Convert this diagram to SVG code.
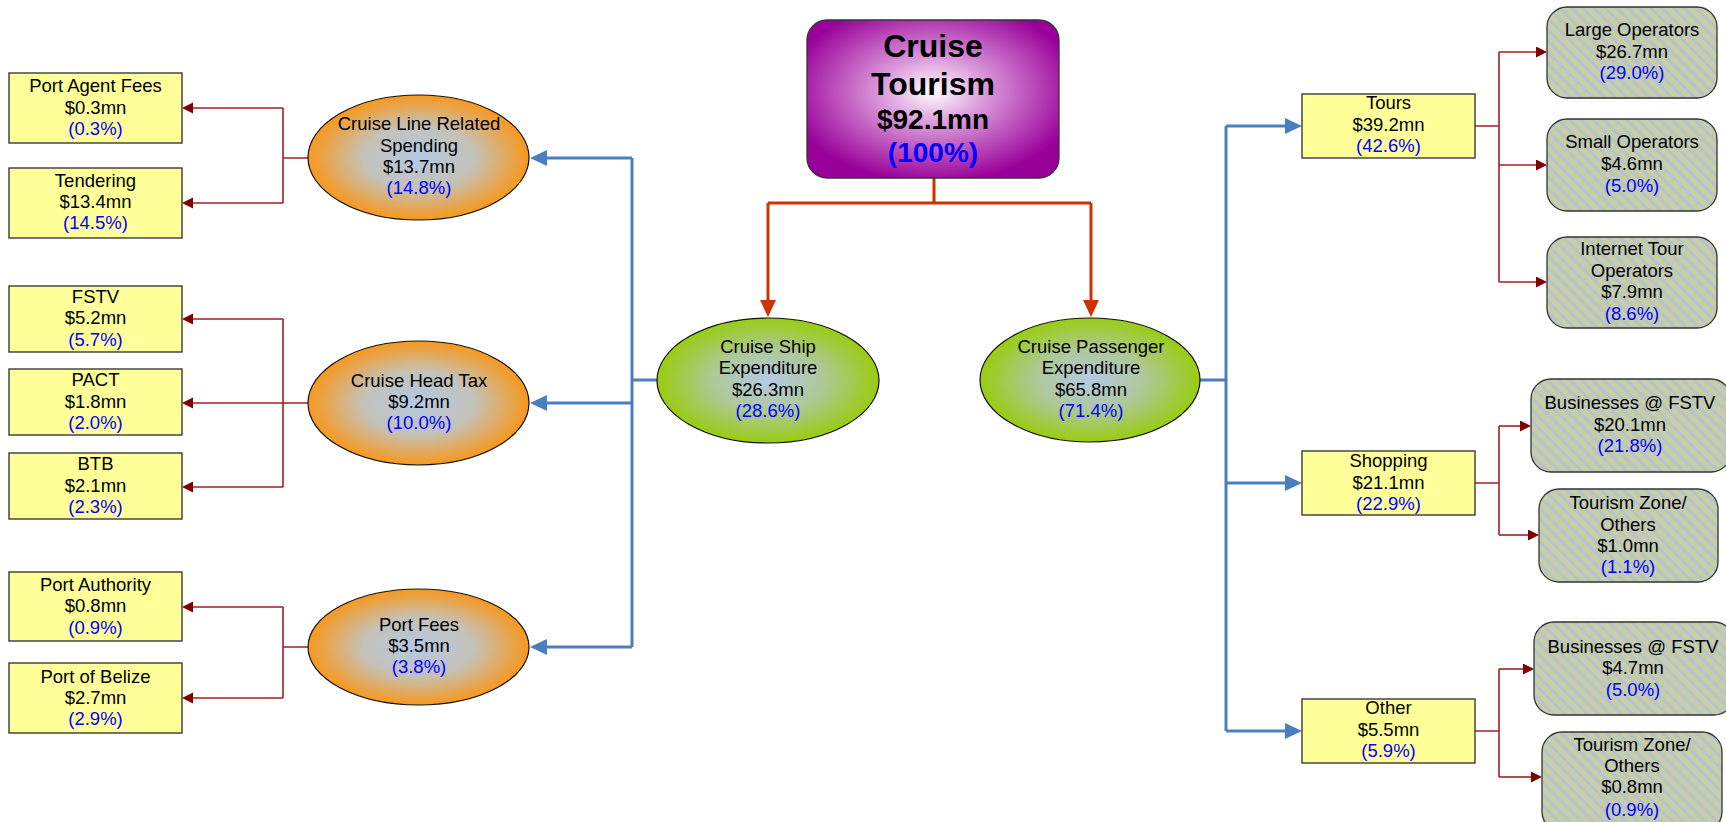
<svg xmlns="http://www.w3.org/2000/svg" width="1726" height="822" viewBox="0 0 1726 822">
<style>
.t{font-family:"Liberation Sans",Arial,sans-serif;font-size:18.5px;text-anchor:middle;fill:#000}
.h1{font-family:"Liberation Sans",Arial,sans-serif;font-size:32px;font-weight:bold;text-anchor:middle;fill:#000}
.h2{font-family:"Liberation Sans",Arial,sans-serif;font-size:28px;font-weight:bold;text-anchor:middle;fill:#000}
.p{fill:#0000ff}
.yb{fill:#ffff99;stroke:#3a3a3a;stroke-width:1.4}
.gb{fill:url(#stripes);stroke:#333;stroke-width:1.3}
.oe{fill:url(#gOrange);stroke:#111;stroke-width:1.2}
.ge{fill:url(#gGreen);stroke:#111;stroke-width:1.2}
.blue{fill:none;stroke:#4a7ebf;stroke-width:3}
.blueA{fill:none;stroke:#4a7ebf;stroke-width:3;marker-end:url(#mBlue)}
.top{fill:none;stroke:#cc3300;stroke-width:3}
.topA{fill:none;stroke:#cc3300;stroke-width:3;marker-end:url(#mTop)}
.dr{fill:none;stroke:#a02020;stroke-width:1.6}
.drA{fill:none;stroke:#a02020;stroke-width:1.6;marker-end:url(#mRed)}
</style>
<defs>
<radialGradient id="gPurple" cx="50%" cy="45%" r="58%">
<stop offset="0" stop-color="#ffffff"/>
<stop offset="0.35" stop-color="#dc9cdc"/>
<stop offset="1" stop-color="#990099"/>
</radialGradient>
<radialGradient id="gOrange" cx="50%" cy="50%" r="50%">
<stop offset="0" stop-color="#b4c8e4"/>
<stop offset="0.5" stop-color="#c4c2b8"/>
<stop offset="1" stop-color="#f7981d"/>
</radialGradient>
<radialGradient id="gGreen" cx="50%" cy="50%" r="50%">
<stop offset="0" stop-color="#b4cae6"/>
<stop offset="0.5" stop-color="#aec896"/>
<stop offset="1" stop-color="#99cc11"/>
</radialGradient>
<pattern id="stripes" patternUnits="userSpaceOnUse" width="8" height="8" patternTransform="rotate(-45)">
<rect width="8" height="8" fill="#c8cda6"/>
<rect width="3" height="8" fill="#b3c4cc"/>
</pattern>
<marker id="mBlue" markerUnits="userSpaceOnUse" markerWidth="18" markerHeight="17" refX="0" refY="8" orient="auto">
<path d="M0,0 L17,8 L0,16 z" fill="#4a7ebf"/>
</marker>
<marker id="mTop" markerUnits="userSpaceOnUse" markerWidth="18" markerHeight="17" refX="0" refY="8" orient="auto">
<path d="M0,0 L17,8 L0,16 z" fill="#cc3300"/>
</marker>
<marker id="mRed" markerUnits="userSpaceOnUse" markerWidth="12" markerHeight="12" refX="0" refY="5.5" orient="auto">
<path d="M0,0 L11,5.5 L0,11 z" fill="#800000"/>
</marker>
</defs>

<g id="connectors">
<path class="top" d="M934,178 V203 M768,203 H1091"/>
<path class="topA" d="M768,203 V300"/>
<path class="topA" d="M1091,203 V300"/>
<path class="blue" d="M657,380 H632 M632,158 V647"/>
<path class="blueA" d="M632,158 H547"/>
<path class="blueA" d="M632,403 H547"/>
<path class="blueA" d="M632,647 H547"/>
<path class="blue" d="M1200,380 H1226 M1226,126 V731"/>
<path class="blueA" d="M1226,126 H1285"/>
<path class="blueA" d="M1226,483 H1285"/>
<path class="blueA" d="M1226,731 H1285"/>
<path class="dr" d="M308,158 H283 M283,108 V203"/>
<path class="drA" d="M283,108 H193"/>
<path class="drA" d="M283,203 H193"/>
<path class="dr" d="M308,403 H283 M283,319 V487"/>
<path class="drA" d="M283,319 H193"/>
<path class="drA" d="M283,403 H193"/>
<path class="drA" d="M283,487 H193"/>
<path class="dr" d="M308,647 H283 M283,607 V698"/>
<path class="drA" d="M283,607 H193"/>
<path class="drA" d="M283,698 H193"/>
<path class="dr" d="M1475,126 H1499 M1499,52 V282"/>
<path class="drA" d="M1499,52 H1536"/>
<path class="drA" d="M1499,165 H1536"/>
<path class="drA" d="M1499,282 H1536"/>
<path class="dr" d="M1475,483 H1499 M1499,426 V535"/>
<path class="drA" d="M1499,426 H1520"/>
<path class="drA" d="M1499,535 H1528"/>
<path class="dr" d="M1475,731 H1499 M1499,669 V777"/>
<path class="drA" d="M1499,669 H1523"/>
<path class="drA" d="M1499,777 H1531"/>
</g>

<g id="cruise-tourism">
<rect x="807" y="20" width="252" height="158" rx="20" fill="url(#gPurple)" stroke="#333" stroke-width="1.3"/>
<text class="h1" x="933" y="57">Cruise</text>
<text class="h1" x="933" y="95">Tourism</text>
<text class="h2" x="933" y="129">$92.1mn</text>
<text class="h2 p" x="933" y="162">(100%)</text>
</g>

<g id="cruise-ship">
<ellipse class="ge" cx="768" cy="380.5" rx="111" ry="62.5"/>
<text class="t"><tspan x="768" y="353">Cruise Ship</tspan><tspan x="768" y="374">Expenditure</tspan><tspan x="768" y="395.5">$26.3mn</tspan><tspan class="p" x="768" y="417">(28.6%)</tspan></text>
</g>
<g id="cruise-passenger">
<ellipse class="ge" cx="1090" cy="380" rx="110" ry="62"/>
<text class="t"><tspan x="1091" y="353">Cruise Passenger</tspan><tspan x="1091" y="374">Expenditure</tspan><tspan x="1091" y="395.5">$65.8mn</tspan><tspan class="p" x="1091" y="417">(71.4%)</tspan></text>
</g>

<g id="cruise-line">
<ellipse class="oe" cx="418.5" cy="157.5" rx="110.5" ry="62.5"/>
<text class="t"><tspan x="419" y="130">Cruise Line Related</tspan><tspan x="419" y="151.5">Spending</tspan><tspan x="419" y="173">$13.7mn</tspan><tspan class="p" x="419" y="194">(14.8%)</tspan></text>
</g>
<g id="head-tax">
<ellipse class="oe" cx="418.5" cy="403" rx="110.5" ry="62"/>
<text class="t"><tspan x="419" y="387">Cruise Head Tax</tspan><tspan x="419" y="408">$9.2mn</tspan><tspan class="p" x="419" y="429">(10.0%)</tspan></text>
</g>
<g id="port-fees">
<ellipse class="oe" cx="418.5" cy="647" rx="110.5" ry="58"/>
<text class="t"><tspan x="419" y="631">Port Fees</tspan><tspan x="419" y="652">$3.5mn</tspan><tspan class="p" x="419" y="673">(3.8%)</tspan></text>
</g>

<g id="port-agent">
<rect class="yb" x="9" y="73" width="173" height="70"/>
<text class="t"><tspan x="95.5" y="92">Port Agent Fees</tspan><tspan x="95.5" y="113.5">$0.3mn</tspan><tspan class="p" x="95.5" y="135">(0.3%)</tspan></text>
</g>
<g id="tendering">
<rect class="yb" x="9" y="168" width="173" height="70"/>
<text class="t"><tspan x="95.5" y="187">Tendering</tspan><tspan x="95.5" y="208">$13.4mn</tspan><tspan class="p" x="95.5" y="229">(14.5%)</tspan></text>
</g>
<g id="fstv">
<rect class="yb" x="9" y="286" width="173" height="66"/>
<text class="t"><tspan x="95.5" y="303">FSTV</tspan><tspan x="95.5" y="324">$5.2mn</tspan><tspan class="p" x="95.5" y="345.5">(5.7%)</tspan></text>
</g>
<g id="pact">
<rect class="yb" x="9" y="369" width="173" height="66"/>
<text class="t"><tspan x="95.5" y="386">PACT</tspan><tspan x="95.5" y="407.5">$1.8mn</tspan><tspan class="p" x="95.5" y="429">(2.0%)</tspan></text>
</g>
<g id="btb">
<rect class="yb" x="9" y="453" width="173" height="66"/>
<text class="t"><tspan x="95.5" y="470">BTB</tspan><tspan x="95.5" y="491.5">$2.1mn</tspan><tspan class="p" x="95.5" y="513">(2.3%)</tspan></text>
</g>
<g id="port-authority">
<rect class="yb" x="9" y="572" width="173" height="69"/>
<text class="t"><tspan x="95.5" y="591">Port Authority</tspan><tspan x="95.5" y="612">$0.8mn</tspan><tspan class="p" x="95.5" y="633.5">(0.9%)</tspan></text>
</g>
<g id="port-belize">
<rect class="yb" x="9" y="663" width="173" height="70"/>
<text class="t"><tspan x="95.5" y="682.5">Port of Belize</tspan><tspan x="95.5" y="703.5">$2.7mn</tspan><tspan class="p" x="95.5" y="725">(2.9%)</tspan></text>
</g>

<g id="tours">
<rect class="yb" x="1302" y="94" width="173" height="64"/>
<text class="t"><tspan x="1388.5" y="108.5">Tours</tspan><tspan x="1388.5" y="130.5">$39.2mn</tspan><tspan class="p" x="1388.5" y="152">(42.6%)</tspan></text>
</g>
<g id="shopping">
<rect class="yb" x="1302" y="451" width="173" height="64"/>
<text class="t"><tspan x="1388.5" y="467">Shopping</tspan><tspan x="1388.5" y="488.5">$21.1mn</tspan><tspan class="p" x="1388.5" y="509.5">(22.9%)</tspan></text>
</g>
<g id="other">
<rect class="yb" x="1302" y="699" width="173" height="64"/>
<text class="t"><tspan x="1388.5" y="714">Other</tspan><tspan x="1388.5" y="735.5">$5.5mn</tspan><tspan class="p" x="1388.5" y="757">(5.9%)</tspan></text>
</g>

<g id="large-operators">
<rect class="gb" x="1547" y="7" width="170" height="91" rx="20"/>
<text class="t"><tspan x="1632" y="36">Large Operators</tspan><tspan x="1632" y="57.5">$26.7mn</tspan><tspan class="p" x="1632" y="79">(29.0%)</tspan></text>
</g>
<g id="small-operators">
<rect class="gb" x="1547" y="119" width="170" height="92" rx="20"/>
<text class="t"><tspan x="1632" y="148">Small Operators</tspan><tspan x="1632" y="170">$4.6mn</tspan><tspan class="p" x="1632" y="192">(5.0%)</tspan></text>
</g>
<g id="internet-tour">
<rect class="gb" x="1547" y="237" width="170" height="91" rx="20"/>
<text class="t"><tspan x="1632" y="255">Internet Tour</tspan><tspan x="1632" y="277">Operators</tspan><tspan x="1632" y="298">$7.9mn</tspan><tspan class="p" x="1632" y="320">(8.6%)</tspan></text>
</g>
<g id="businesses-fstv-1">
<rect class="gb" x="1531" y="379" width="200" height="93" rx="20"/>
<text class="t"><tspan x="1630" y="409">Businesses @ FSTV</tspan><tspan x="1630" y="431">$20.1mn</tspan><tspan class="p" x="1630" y="452">(21.8%)</tspan></text>
</g>
<g id="tourism-zone-1">
<rect class="gb" x="1539" y="489" width="179" height="93" rx="20"/>
<text class="t"><tspan x="1628" y="509">Tourism Zone/</tspan><tspan x="1628" y="531">Others</tspan><tspan x="1628" y="552">$1.0mn</tspan><tspan class="p" x="1628" y="573">(1.1%)</tspan></text>
</g>
<g id="businesses-fstv-2">
<rect class="gb" x="1534" y="622" width="200" height="93" rx="20"/>
<text class="t"><tspan x="1633" y="653">Businesses @ FSTV</tspan><tspan x="1633" y="674">$4.7mn</tspan><tspan class="p" x="1633" y="696">(5.0%)</tspan></text>
</g>
<g id="tourism-zone-2">
<rect class="gb" x="1542" y="732" width="180" height="100" rx="20"/>
<text class="t"><tspan x="1632" y="751">Tourism Zone/</tspan><tspan x="1632" y="772">Others</tspan><tspan x="1632" y="793">$0.8mn</tspan><tspan class="p" x="1632" y="816">(0.9%)</tspan></text>
</g>
</svg>
